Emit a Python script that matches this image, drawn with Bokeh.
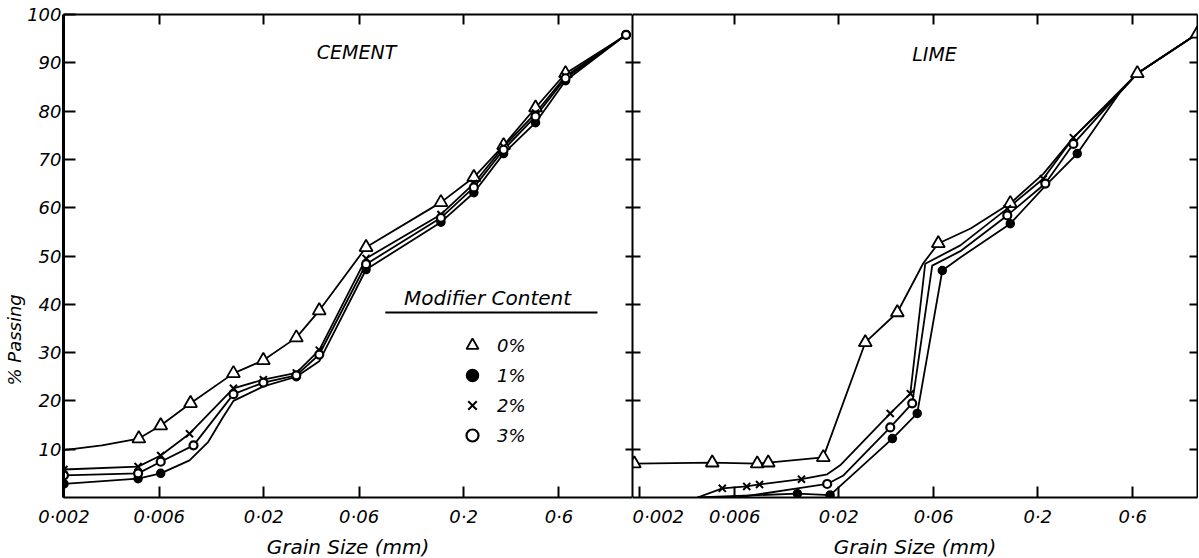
from bokeh.plotting import figure
from bokeh.models import (FixedTicker, LinearAxis, LogAxis, Range1d, Label, Title,
                          Legend, LegendItem, BoxAnnotation, CustomLabelingPolicy)
from bokeh.layouts import row
from bokeh.embed import file_html
from bokeh.resources import INLINE

FONT = "DejaVu Sans"

# ---------------- axis ticks ----------------
x_ticks = [0.002, 0.006, 0.02, 0.06, 0.2, 0.6]
x_tick_labels = ["0·002", "0·006", "0·02", "0·06", "0·2", "0·6"]
y_ticks = [10, 20, 30, 40, 50, 60, 70, 80, 90, 100]
y_tick_labels = ["10", "20", "30", "40", "50", "60", "70", "80", "90", "100"]

series_labels = ["0%", "1%", "2%", "3%"]

# ---------------- CEMENT ----------------
cem0_line_x = [0.002, 0.0031, 0.00474, 0.0061, 0.0086, 0.0141, 0.0199, 0.0291, 0.0379, 0.065, 0.154, 0.225, 0.317, 0.458, 0.647, 1.30]
cem0_line_y = [9.8, 10.8, 12.2, 14.9, 19.5, 25.7, 28.4, 33.1, 38.7, 51.8, 61.1, 66.3, 72.9, 80.7, 87.8, 95.7]
cem0_mark_x = [0.00474, 0.0061, 0.0086, 0.0141, 0.0199, 0.0291, 0.0379, 0.065, 0.154, 0.225, 0.317, 0.458, 0.647]
cem0_mark_y = [12.2, 14.9, 19.5, 25.7, 28.4, 33.1, 38.7, 51.8, 61.1, 66.3, 72.9, 80.7, 87.8]

cem1_line_x = [0.002, 0.0047, 0.0061, 0.0085, 0.0105, 0.0125, 0.0141, 0.0199, 0.0291, 0.0379, 0.065, 0.154, 0.225, 0.317, 0.458, 0.647, 1.30]
cem1_line_y = [2.8, 3.9, 5.0, 7.7, 11.4, 16.6, 20.0, 23.0, 25.0, 28.2, 47.2, 57.0, 63.1, 71.2, 77.6, 86.3, 95.8]
cem1_mark_x = [0.002, 0.0047, 0.0061, 0.0291, 0.065, 0.154, 0.225, 0.317, 0.458, 0.647, 1.30]
cem1_mark_y = [2.8, 3.9, 5.0, 25.0, 47.2, 57.0, 63.1, 71.2, 77.6, 86.3, 95.8]

cem2_x = [0.002, 0.0047, 0.0061, 0.0085, 0.0141, 0.0199, 0.0291, 0.0379, 0.065, 0.154, 0.225, 0.317, 0.458, 0.647, 1.30]
cem2_y = [5.8, 6.4, 8.7, 13.2, 22.6, 24.4, 25.8, 30.5, 49.5, 58.6, 65.0, 72.6, 79.6, 87.2, 95.8]

cem3_x = [0.002, 0.0047, 0.0061, 0.0089, 0.0141, 0.0199, 0.0291, 0.0379, 0.065, 0.154, 0.225, 0.317, 0.458, 0.647, 1.30]
cem3_y = [4.6, 5.0, 7.4, 10.8, 21.4, 23.8, 25.3, 29.6, 48.3, 57.9, 64.2, 72.0, 78.9, 86.8, 95.8]

# ---------------- LIME ----------------
lim0_line_x = [0.00188, 0.00463, 0.00779, 0.00885, 0.01673, 0.0272, 0.0394, 0.0532, 0.0633, 0.092, 0.1456, 0.2133, 0.302, 0.633, 1.267]
lim0_line_y = [7.0, 7.2, 7.0, 7.2, 8.3, 32.1, 38.3, 48.5, 52.6, 55.7, 60.9, 67.0, 74.5, 87.8, 96.0]
lim0_mark_x = [0.00188, 0.00463, 0.00779, 0.00885, 0.01673, 0.0272, 0.0394, 0.0633, 0.1456, 0.633, 1.267]
lim0_mark_y = [7.0, 7.2, 7.0, 7.2, 8.3, 32.1, 38.3, 52.6, 60.9, 87.8, 96.0]

lim1_line_x = [0.0039, 0.0124, 0.0181, 0.0372, 0.0496, 0.0663, 0.0817, 0.1456, 0.2183, 0.316, 0.52, 0.633, 1.267]
lim1_line_y = [0.0, 0.8, 0.5, 12.2, 17.4, 47.0, 49.7, 56.7, 64.5, 71.2, 84.0, 87.8, 96.0]
lim1_mark_x = [0.0124, 0.0181, 0.0372, 0.0496, 0.0663, 0.1456, 0.316]
lim1_mark_y = [0.8, 0.5, 12.2, 17.4, 47.0, 56.7, 71.2]

lim2_line_x = [0.0039, 0.0052, 0.0069, 0.008, 0.013, 0.0175, 0.0205, 0.0363, 0.0458, 0.0544, 0.0817, 0.1406, 0.2133, 0.302, 0.52, 0.633, 1.267]
lim2_line_y = [0.0, 1.9, 2.3, 2.7, 3.8, 4.8, 6.8, 17.4, 21.5, 48.4, 52.2, 59.8, 66.0, 74.5, 84.0, 87.8, 96.0]
lim2_mark_x = [0.0052, 0.0069, 0.008, 0.013, 0.0363, 0.0458, 0.1406, 0.2133, 0.302]
lim2_mark_y = [1.9, 2.3, 2.7, 3.8, 17.4, 21.5, 59.8, 66.0, 74.5]

lim3_line_x = [0.0062, 0.0124, 0.0175, 0.021, 0.0363, 0.0468, 0.059, 0.0817, 0.1406, 0.2183, 0.302, 0.52, 0.633, 1.267]
lim3_line_y = [0.0, 1.9, 2.8, 4.5, 14.5, 19.5, 48.0, 51.0, 58.4, 65.0, 73.2, 84.0, 87.8, 96.0]
lim3_mark_x = [0.0175, 0.0363, 0.0468, 0.1406, 0.2183, 0.302]
lim3_mark_y = [2.8, 14.5, 19.5, 58.4, 65.0, 73.2]

# ---------------- styles ----------------
LINE = dict(line_color="black", line_width=1.8, line_join="round")
MARK = {
    "0%": dict(marker="triangle", size=13, fill_color="white", line_color="black", line_width=1.8),
    "1%": dict(marker="circle", size=8, fill_color="black", line_color="black", line_width=1.5),
    "2%": dict(marker="x", size=10, line_color="black", line_width=2),
    "3%": dict(marker="circle", size=8, fill_color="white", line_color="black", line_width=2.2),
}

FRAME_H = 483
BORDER_TOP = 14
BORDER_BOTTOM = 60


def style_text(axis, size):
    axis.major_label_text_font = FONT
    axis.major_label_text_font_style = "italic"
    axis.major_label_text_font_size = size
    axis.major_label_text_color = "black"


def hidden_labels(axis):
    axis.major_label_text_font_size = "0px"
    axis.major_label_standoff = 0
    axis.major_label_policy = CustomLabelingPolicy(code="return new Set()")


def tick_axis(axis, tick_in, line_w):
    axis.major_tick_in = tick_in
    axis.major_tick_out = 0
    axis.major_tick_line_width = 2
    axis.major_tick_line_color = "black"
    axis.minor_tick_line_color = None
    axis.axis_line_width = line_w
    axis.axis_line_color = "black"


def make_panel(xr, frame_w, b_left, b_right):
    p = figure(x_axis_type="log", x_range=Range1d(*xr), y_range=Range1d(0, 100),
               frame_width=frame_w, frame_height=FRAME_H,
               min_border_left=b_left, min_border_right=b_right,
               min_border_top=BORDER_TOP, min_border_bottom=BORDER_BOTTOM,
               x_axis_location=None, y_axis_location=None,
               output_backend="svg", toolbar_location=None)
    p.outline_line_color = None
    p.background_fill_color = "white"
    p.border_fill_color = "white"
    p.xgrid.visible = False
    p.ygrid.visible = False

    bx = LogAxis(ticker=FixedTicker(ticks=x_ticks),
                 major_label_overrides=dict(zip(x_ticks, x_tick_labels)),
                 axis_label="Grain Size (mm)")
    tick_axis(bx, 11, 2)
    style_text(bx, "18px")
    bx.major_label_standoff = 8
    bx.axis_label_text_font = FONT
    bx.axis_label_text_font_style = "italic"
    bx.axis_label_text_font_size = "20px"
    bx.axis_label_text_color = "black"
    bx.axis_label_standoff = 5
    p.add_layout(bx, "below")

    tx = LogAxis(ticker=FixedTicker(ticks=x_ticks[1:]))
    tick_axis(tx, 10, 2)
    hidden_labels(tx)
    p.add_layout(tx, "above")
    return p


# ---------------- left panel: CEMENT ----------------
p1 = make_panel((0.00199, 1.40), 569, 63, 0)

ly = LinearAxis(ticker=FixedTicker(ticks=y_ticks),
                major_label_overrides=dict(zip(y_ticks, y_tick_labels)))
tick_axis(ly, 12, 3)
style_text(ly, "18px")
ly.major_label_standoff = 2
p1.add_layout(ly, "left")

p1.add_layout(Title(text="% Passing", align="left", offset=112, standoff=0,
                    text_font=FONT, text_font_style="italic", text_font_size="18px",
                    text_color="black"), "left")

ry = LinearAxis(ticker=FixedTicker(ticks=y_ticks[:-1]))
tick_axis(ry, 7, 2)
hidden_labels(ry)
p1.add_layout(ry, "right")

p1.line(cem0_line_x, cem0_line_y, **LINE)
p1.line(cem1_line_x, cem1_line_y, **LINE)
p1.line(cem2_x, cem2_y, **LINE)
p1.line(cem3_x, cem3_y, **LINE)
m0 = p1.scatter(cem0_mark_x, cem0_mark_y, **MARK["0%"])
m1 = p1.scatter(cem1_mark_x, cem1_mark_y, **MARK["1%"])
m2 = p1.scatter(cem2_x, cem2_y, **MARK["2%"])
m3 = p1.scatter(cem3_x, cem3_y, **MARK["3%"])

p1.add_layout(Label(x=293, y=446, x_units="screen", y_units="screen", text="CEMENT",
                    text_align="center", text_baseline="middle", text_font=FONT,
                    text_font_style="italic", text_font_size="19px", text_color="black"))
p1.add_layout(Label(x=424, y=200, x_units="screen", y_units="screen", text="Modifier Content",
                    text_align="center", text_baseline="middle", text_font=FONT,
                    text_font_style="italic", text_font_size="20px", text_color="black"))
p1.add_layout(BoxAnnotation(left=0.0811, right=0.935, bottom=38.1, top=38.5,
                            fill_color="black", fill_alpha=1, line_color=None))

legend = Legend(items=[LegendItem(label=series_labels[0], renderers=[m0]),
                       LegendItem(label=series_labels[1], renderers=[m1]),
                       LegendItem(label=series_labels[2], renderers=[m2]),
                       LegendItem(label=series_labels[3], renderers=[m3])],
                location=(394, 47), orientation="vertical",
                glyph_width=30, glyph_height=30, label_height=30, spacing=0,
                padding=0, margin=0, label_standoff=10,
                border_line_color=None, background_fill_alpha=0,
                label_text_font=FONT, label_text_font_style="italic",
                label_text_font_size="18px", label_text_color="black")
p1.add_layout(legend)

# ---------------- right panel: LIME ----------------
p2 = make_panel((0.00184, 1.27), 565, 0, 1)

ly2 = LinearAxis(ticker=FixedTicker(ticks=y_ticks[:-1]))
tick_axis(ly2, 8, 2)
hidden_labels(ly2)
p2.add_layout(ly2, "left")

ry2 = LinearAxis(ticker=FixedTicker(ticks=y_ticks[:-1]))
tick_axis(ry2, 8, 2)
hidden_labels(ry2)
p2.add_layout(ry2, "right")

p2.line(lim0_line_x, lim0_line_y, **LINE)
p2.line(lim1_line_x, lim1_line_y, **LINE)
p2.line(lim2_line_x, lim2_line_y, **LINE)
p2.line(lim3_line_x, lim3_line_y, **LINE)
p2.scatter(lim0_mark_x, lim0_mark_y, **MARK["0%"])
p2.scatter(lim1_mark_x, lim1_mark_y, **MARK["1%"])
p2.scatter(lim2_mark_x, lim2_mark_y, **MARK["2%"])
p2.scatter(lim3_mark_x, lim3_mark_y, **MARK["3%"])

p2.add_layout(Label(x=302, y=444, x_units="screen", y_units="screen", text="LIME",
                    text_align="center", text_baseline="middle", text_font=FONT,
                    text_font_style="italic", text_font_size="19px", text_color="black"))

layout = row(p1, p2)
open("out.html", "w").write(file_html(layout, INLINE))
